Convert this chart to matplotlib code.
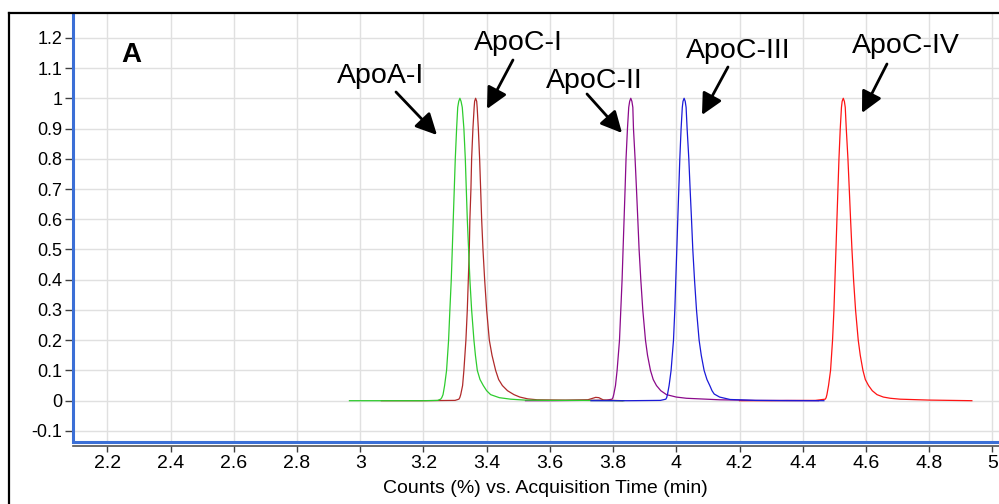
import matplotlib
matplotlib.use("Agg")
from matplotlib import pyplot as plt
from matplotlib.lines import Line2D

plt.rcParams['font.family'] = ['Liberation Sans', 'DejaVu Sans']

# traces: time (min), relative counts
apoa1_t = [2.966, 3.10, 3.20, 3.245, 3.2545, 3.258, 3.262, 3.267, 3.2732, 3.2796, 3.2837, 3.2881,
           3.2913, 3.2944, 3.2976, 3.3008, 3.305, 3.3085, 3.3118, 3.3154, 3.319, 3.3229, 3.328,
           3.3325, 3.3356, 3.3388, 3.3429, 3.347, 3.3525, 3.3598, 3.3645, 3.3705, 3.379, 3.3895,
           3.40, 3.4127, 3.44, 3.476, 3.52, 3.60, 3.70, 3.834]
apoa1_y = [0, 0, 0, 0.001, 0.005, 0.01, 0.02, 0.05, 0.1, 0.2, 0.3, 0.4,
           0.5, 0.6, 0.7, 0.8, 0.9, 0.97, 0.99, 1.0, 0.99, 0.97, 0.9,
           0.8, 0.7, 0.6, 0.5, 0.4, 0.3, 0.2, 0.15, 0.1, 0.07, 0.05,
           0.033, 0.02, 0.01, 0.005, 0.002, 0.001, 0.001, 0.0]

apoc1_t = [3.067, 3.20, 3.30, 3.3122, 3.315, 3.318, 3.3239, 3.328, 3.3344, 3.3388, 3.342, 3.3451,
           3.347, 3.3503, 3.3525, 3.3566, 3.3605, 3.362, 3.3651, 3.3685, 3.370, 3.3737, 3.3778,
           3.381, 3.3842, 3.3884, 3.3937, 3.40, 3.4085, 3.417, 3.4285, 3.438, 3.4498, 3.466,
           3.4865, 3.505, 3.53, 3.56, 3.65, 3.72, 3.745, 3.755, 3.77, 3.83]
apoc1_y = [0, 0, 0.001, 0.005, 0.01, 0.02, 0.05, 0.1, 0.2, 0.3, 0.4, 0.5,
           0.6, 0.7, 0.8, 0.9, 0.97, 0.99, 1.0, 0.99, 0.97, 0.9, 0.8,
           0.7, 0.6, 0.5, 0.4, 0.3, 0.2, 0.15, 0.1, 0.07, 0.05, 0.033,
           0.02, 0.012, 0.006, 0.003, 0.002, 0.003, 0.011, 0.01, 0.002, 0.0]

apoc2_t = [3.523, 3.60, 3.70, 3.78, 3.7968, 3.7995, 3.802, 3.8076, 3.8127, 3.8203, 3.8244, 3.8285,
           3.8316, 3.8348, 3.838, 3.841, 3.8455, 3.8495, 3.8525, 3.856, 3.8595, 3.8625, 3.8645,
           3.8696, 3.874, 3.8782, 3.8823, 3.8877, 3.894, 3.9025, 3.909, 3.9183, 3.927, 3.9373,
           3.951, 3.969, 4.00, 4.032, 4.137, 4.25, 4.35, 4.45]
apoc2_y = [0, 0, 0.001, 0.002, 0.005, 0.01, 0.02, 0.05, 0.1, 0.2, 0.3, 0.4,
           0.5, 0.6, 0.7, 0.8, 0.9, 0.97, 0.99, 1.0, 0.99, 0.97, 0.9,
           0.8, 0.7, 0.6, 0.5, 0.4, 0.3, 0.2, 0.15, 0.1, 0.07, 0.05,
           0.033, 0.02, 0.012, 0.008, 0.003, 0.001, 0.001, 0.0]

apoc3_t = [3.73, 3.85, 3.95, 3.9668, 3.9695, 3.972, 3.9772, 3.9835, 3.9911, 3.9953, 3.9984, 4.0016,
           4.0047, 4.0079, 4.0111, 4.0152, 4.019, 4.0212, 4.0247, 4.0282, 4.031, 4.0342, 4.0396,
           4.0437, 4.0481, 4.0522, 4.0576, 4.0639, 4.0722, 4.079, 4.088, 4.097, 4.106, 4.113,
           4.12, 4.137, 4.17, 4.25, 4.35, 4.467]
apoc3_y = [0, 0, 0.001, 0.005, 0.01, 0.02, 0.05, 0.1, 0.2, 0.3, 0.4, 0.5,
           0.6, 0.7, 0.8, 0.9, 0.97, 0.99, 1.0, 0.99, 0.97, 0.9, 0.8,
           0.7, 0.6, 0.5, 0.4, 0.3, 0.2, 0.15, 0.1, 0.07, 0.05, 0.033,
           0.022, 0.012, 0.004, 0.001, 0.0, 0.0]

apoc4_t = [4.20, 4.30, 4.44, 4.4712, 4.474, 4.4765, 4.4816, 4.488, 4.4943, 4.4987, 4.5019, 4.5051,
           4.5082, 4.5114, 4.5146, 4.5187, 4.5225, 4.5247, 4.5282, 4.5317, 4.5345, 4.5377, 4.543,
           4.5472, 4.5513, 4.5557, 4.5608, 4.5671, 4.5756, 4.582, 4.5905, 4.598, 4.6082, 4.62,
           4.635, 4.655, 4.677, 4.708, 4.80, 4.935]
apoc4_y = [0, 0, 0.001, 0.005, 0.01, 0.02, 0.05, 0.1, 0.2, 0.3, 0.4, 0.5,
           0.6, 0.7, 0.8, 0.9, 0.97, 0.99, 1.0, 0.99, 0.97, 0.9, 0.8,
           0.7, 0.6, 0.5, 0.4, 0.3, 0.2, 0.15, 0.1, 0.07, 0.05, 0.033,
           0.02, 0.012, 0.008, 0.005, 0.002, 0.0]

x_ticks = [2.2, 2.4, 2.6, 2.8, 3.0, 3.2, 3.4, 3.6, 3.8, 4.0, 4.2, 4.4, 4.6, 4.8, 5.0]
x_labels = ["2.2", "2.4", "2.6", "2.8", "3", "3.2", "3.4", "3.6", "3.8", "4", "4.2", "4.4", "4.6", "4.8", "5"]
y_ticks = [-0.1, 0, 0.1, 0.2, 0.3, 0.4, 0.5, 0.6, 0.7, 0.8, 0.9, 1.0, 1.1, 1.2]
y_labels = ["-0.1", "0", "0.1", "0.2", "0.3", "0.4", "0.5", "0.6", "0.7", "0.8", "0.9", "1", "1.1", "1.2"]

BLUE = "#3b6fd6"

fig = plt.figure(figsize=(9.99, 5.04), dpi=100)
ax = fig.add_axes([73 / 999, 62 / 504, 1 - 73 / 999, 429 / 504])

#traces, drawn bottom to top
ax.plot(apoc4_t, apoc4_y, color="#ff1414", lw=0.9)
ax.plot(apoc2_t, apoc2_y, color="#8b0a8b", lw=0.9)
ax.plot(apoc1_t, apoc1_y, color="#b02a2a", lw=0.9)
ax.plot(apoa1_t, apoa1_y, color="#2ecc2e", lw=0.9)
ax.plot(apoc3_t, apoc3_y, color="#1a1ad8", lw=0.9)

ax.set_xlim(2.0914, 5.0209)
ax.set_ylim(-0.1366, 1.282)

ax.set_xticks(x_ticks)
ax.set_xticklabels(x_labels)
ax.set_yticks(y_ticks)
ax.set_yticklabels(y_labels)
ax.grid(True, color="#e0e0e0", lw=1.0)
ax.set_axisbelow(True)

ax.tick_params(axis="x", labelsize=14, length=4.5, width=1, color="#404040", pad=2)
ax.tick_params(axis="y", labelsize=13, length=6, width=1, color="#404040", pad=1.5)

ax.spines["top"].set_visible(False)
ax.spines["right"].set_visible(False)
ax.spines["left"].set_color(BLUE)
ax.spines["left"].set_linewidth(2.2)
ax.spines["bottom"].set_position(("outward", 3))
ax.spines["bottom"].set_color("#505050")
ax.spines["bottom"].set_linewidth(1.2)
#blue frame line along the bottom of the plot area
ax.plot([0, 1], [0, 0], transform=ax.transAxes, color=BLUE, lw=2.2, clip_on=False, solid_capstyle="butt")

#outer black frame (runs off the right and bottom edges)
fig.add_artist(Line2D([9 / 999, 1.0], [1 - 13 / 504, 1 - 13 / 504], color="black", lw=1.6))
fig.add_artist(Line2D([9 / 999, 9 / 999], [0, 1 - 13 / 504], color="black", lw=1.6))

#peak labels and arrows
labels = ["ApoA-I", "ApoC-I", "ApoC-II", "ApoC-III", "ApoC-IV"]
label_pos = [(3.065, 1.0506), (3.4993, 1.1597), (3.7396, 1.0341), (4.1952, 1.1323), (4.7267, 1.1498)]
arrow_from = [(3.1132, 1.0208), (3.4833, 1.1266), (3.7175, 1.0142), (4.1635, 1.1035), (4.6665, 1.1134)]
arrow_to = [(3.2429, 0.8786), (3.4011, 0.9646), (3.8282, 0.8853), (4.0812, 0.9448), (4.5874, 0.9514)]

for lab, (tx, ty), start, tip in zip(labels, label_pos, arrow_from, arrow_to):
    ax.text(tx, ty, lab, ha="center", va="baseline", fontsize=20.5)
    ax.annotate("", xy=tip, xytext=start,
                arrowprops=dict(arrowstyle="-|>", lw=2, color="black", mutation_scale=32,
                                shrinkA=0, shrinkB=0))

ax.text(2.2748, 1.12, "A", ha="center", va="baseline", fontsize=20, fontweight="bold")

fig.text(545.5 / 999, 1 - 493 / 504, "Counts (%) vs. Acquisition Time (min)",
         ha="center", va="baseline", fontsize=14)

plt.savefig("out.png", dpi=100)
